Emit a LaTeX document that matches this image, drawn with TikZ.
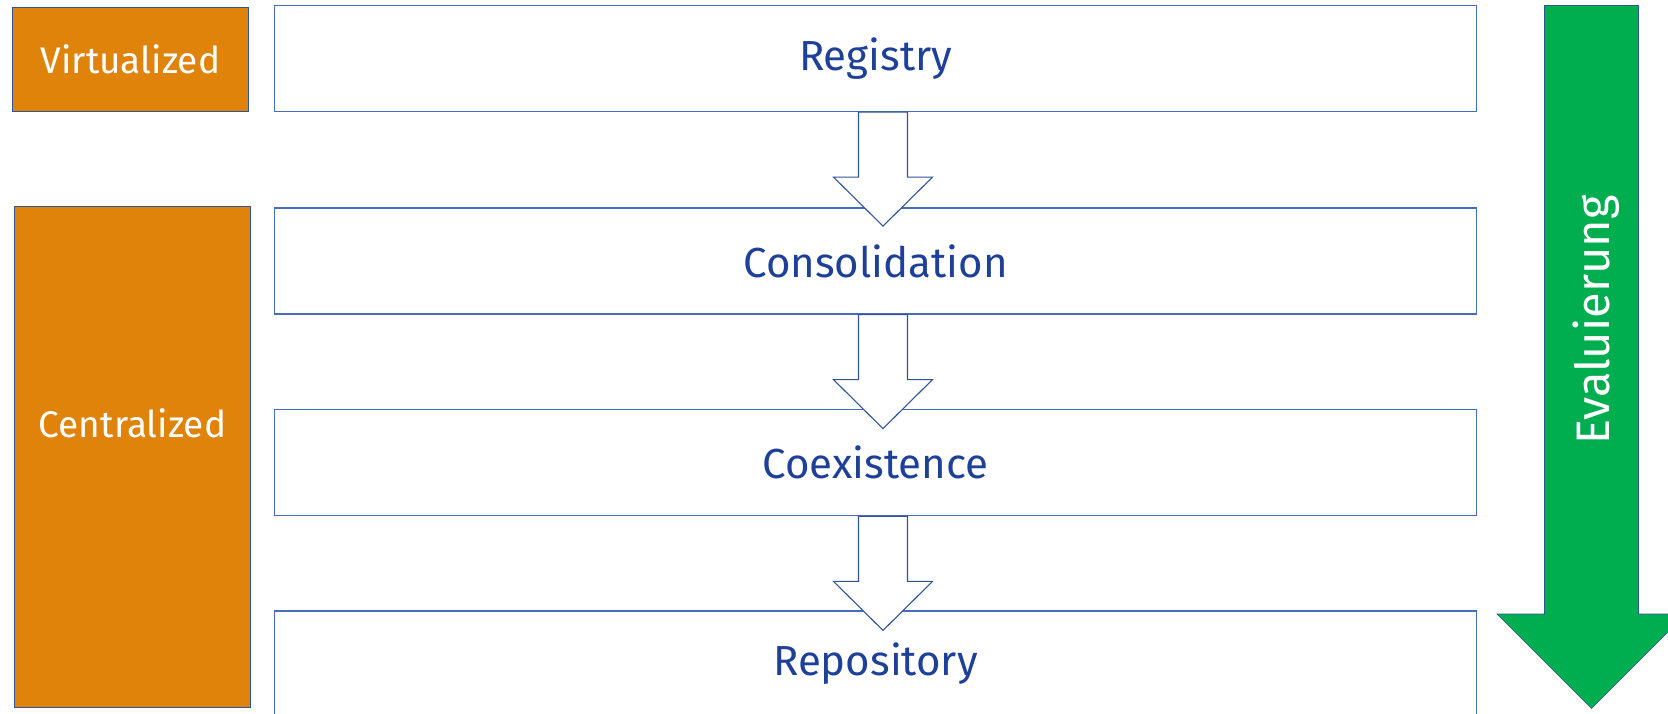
\documentclass[tikz,border=0pt]{standalone}
\usepackage{fontspec}
\setmainfont{Fira Sans}
\definecolor{stageblue}{RGB}{31,64,152}
\definecolor{boxline}{RGB}{72,108,188}
\definecolor{darkline}{RGB}{47,85,151}
\definecolor{tagorange}{RGB}{223,131,11}
\definecolor{evalgreen}{RGB}{0,173,79}
\tikzset{
  stagebox/.style={draw=boxline, line width=1.2pt, fill=white, minimum width=1202pt,
    minimum height=106pt, inner sep=0pt, text=stageblue, font=\fontsize{42}{50}\selectfont},
  tagbox/.style={draw=darkline, line width=1.1pt, fill=tagorange, minimum width=236pt,
    inner sep=0pt},
  tagtext/.style={text=white, inner sep=0pt, font=\fontsize{37}{45}\selectfont},
  flowarrow/.style={draw=darkline, line width=1.1pt, fill=white, line join=miter},
  evalarrow/.style={draw=darkline, line width=0.6pt, fill=evalgreen}
}
\begin{document}
\begin{tikzpicture}[x=1pt, y=-1pt]
  \useasboundingbox (0,0) rectangle (1668,713);
  \clip (0,0) rectangle (1668,713);

  % stage boxes
  \node[stagebox] (reg) at (875.5,58.5)  {Registry};
  \node[stagebox] (con) at (875.5,261)   {Consolidation};
  \node[stagebox] (coe) at (875.5,462.8) {Coexistence};
  \node[stagebox] (rep) at (875.5,664)   {Repository};

  % hollow arrows between the stages
  \foreach \src in {reg,con,coe} {
    \path (\src.south) ++(7.5,0) coordinate (a-\src);
    \draw[flowarrow] (a-\src) ++(-24.5,0) -- ++(0,65) -- ++(-25,0) -- ++(49.5,49)
      -- ++(49.5,-49) -- ++(-25,0) -- ++(0,-65) -- cycle;
  }

  % architecture tags
  \node[tagbox, minimum height=104.5pt] (virt) at (130.5,59.3) {};
  \node[tagtext] (virtt) at (virt.center) {Virtualized};
  \node[tagbox, minimum height=501pt] (cent) at (132.5,457) {};
  \node[tagtext] (centt) at (132.5,423) {Centralized};

  % evaluation direction
  \coordinate (ev) at (1591.5,5.5);
  \draw[evalarrow] (ev) ++(-47,0) -- ++(94,0) -- ++(0,608.5) -- ++(47.5,0)
    -- ++(-94.5,94.5) -- ++(-94.5,-94.5) -- ++(47.5,0) -- cycle;
  \node[text=white, rotate=90, inner sep=0pt, font=\fontsize{47}{55}\selectfont]
    (evt) at (1596,320) {Evaluierung};
\end{tikzpicture}
\end{document}
